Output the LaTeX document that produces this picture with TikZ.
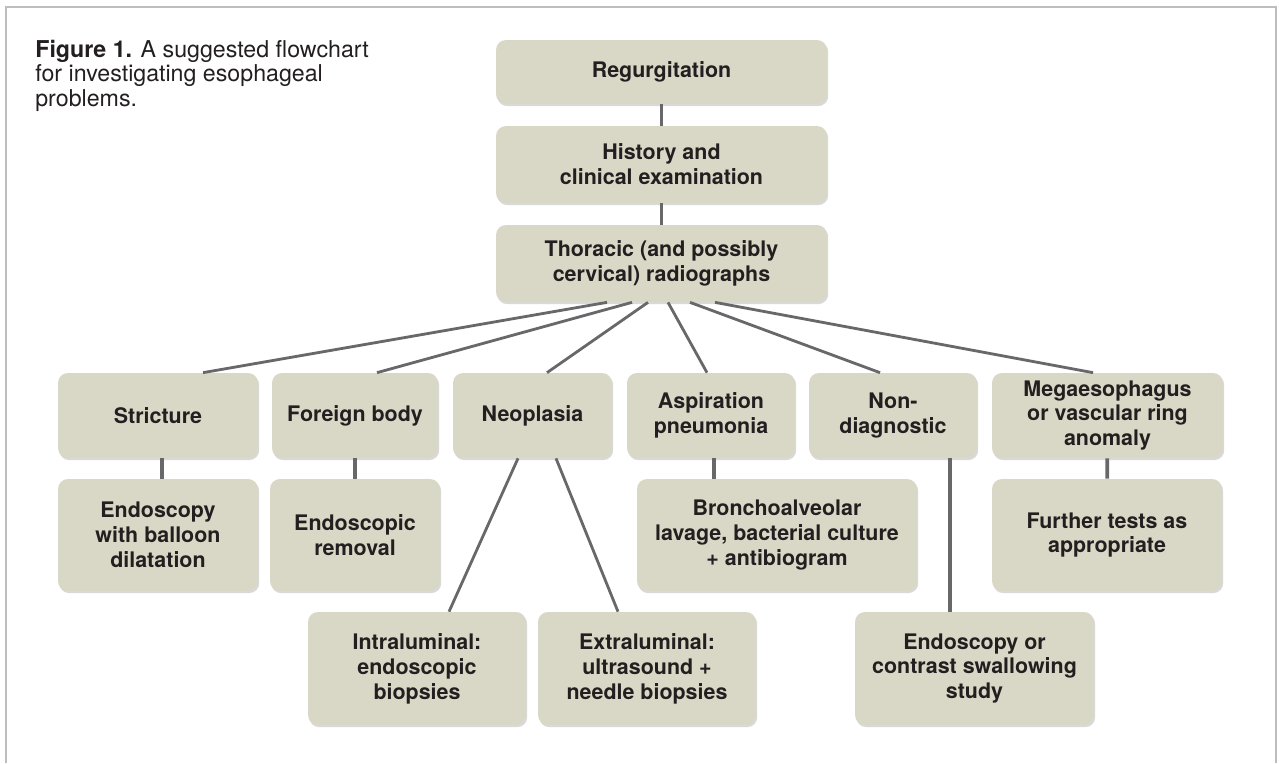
\documentclass[tikz,border=0pt]{standalone}
\usepackage{fontspec}
\setmainfont{TeX Gyre Heros}
\usetikzlibrary{shadows}
\definecolor{boxfill}{RGB}{217,216,198}
\definecolor{inkdark}{RGB}{35,31,32}
\definecolor{linkgray}{RGB}{104,104,106}
\definecolor{framegray}{RGB}{190,190,192}
\begin{document}
\begin{tikzpicture}[
  box/.style={fill=boxfill, rounded corners=0.2cm, align=center, inner sep=0pt,
    text=inkdark, font=\bfseries\fontsize{12.2}{14.2}\selectfont,
    drop shadow={shadow xshift=0.7pt, shadow yshift=-1.2pt, opacity=0.3}},
  link/.style={draw=linkgray, line width=1.6pt},
  stem/.style={link, line width=2.1pt}
]
\useasboundingbox (0,0) rectangle (25.58,-15.26);
\draw [framegray, line width=0.8pt] (0.12,-15.26) -- (0.12,-0.14) -- (25.52,-0.14) -- (25.52,-15.26);
\node (caption) [anchor=north west, inner sep=0pt, align=left, text=inkdark, font=\fontsize{13.2}{13.8}\selectfont] at (0.70,-0.80) {\textbf{Figure 1.} A suggested flowchart\\for investigating esophageal\\problems.};

\node (regurg) [box, minimum width=6.62cm, minimum height=1.28cm] at (13.23,-1.44) {Regurgitation};
\node (hist) [box, minimum width=6.62cm, minimum height=1.54cm] at (13.23,-3.29) {History and\\clinical examination};
\node (thor) [box, minimum width=6.62cm, minimum height=1.54cm] at (13.23,-5.27) {Thoracic (and possibly\\cervical) radiographs};

\node (strict) [box, minimum width=4.00cm, minimum height=1.70cm] at (3.16,-8.31) {Stricture};
\node (foreign) [box, minimum width=3.32cm, minimum height=1.70cm] at (7.10,-8.31) {Foreign body};
\node (neo) [box, minimum width=3.18cm, minimum height=1.70cm] at (10.65,-8.31) {Neoplasia};
\node (asp) [box, minimum width=3.36cm, minimum height=1.70cm] at (14.22,-8.31) {Aspiration\\pneumonia};
\node (nondiag) [box, minimum width=3.36cm, minimum height=1.70cm] at (17.86,-8.31) {Non-\\diagnostic};
\node (mega) [box, minimum width=4.62cm, minimum height=1.70cm] at (22.15,-8.31) {Megaesophagus\\or vascular ring\\anomaly};

\node (balloon) [box, minimum width=4.00cm, minimum height=2.24cm] at (3.16,-10.70) {Endoscopy\\with balloon\\dilatation};
\node (removal) [box, minimum width=3.40cm, minimum height=2.24cm] at (7.10,-10.70) {Endoscopic\\removal};
\node (bronch) [box, minimum width=5.60cm, minimum height=2.24cm] at (15.54,-10.70) {Bronchoalveolar\\lavage, bacterial culture\\+ antibiogram};
\node (further) [box, minimum width=4.60cm, minimum height=2.24cm] at (22.14,-10.70) {Further tests as\\appropriate};

\node (intra) [box, minimum width=4.36cm, minimum height=2.26cm] at (8.34,-13.37) {Intraluminal:\\endoscopic\\biopsies};
\node (extra) [box, minimum width=4.36cm, minimum height=2.26cm] at (12.94,-13.37) {Extraluminal:\\ultrasound +\\needle biopsies};
\node (contrast) [box, minimum width=4.78cm, minimum height=2.26cm] at (19.49,-13.37) {Endoscopy or\\contrast swallowing\\study};

\draw [stem] (regurg) -- (hist);
\draw [stem] (hist) -- (thor);
\draw [link] ([xshift=-1.09cm]thor.south) -- ([xshift=0.90cm]strict.north);
\draw [link] ([xshift=-0.59cm]thor.south) -- ([xshift=0.44cm]foreign.north);
\draw [link] ([xshift=-0.27cm]thor.south) -- ([xshift=0.29cm]neo.north);
\draw [link] ([xshift=0.13cm]thor.south) -- ([xshift=-0.08cm]asp.north);
\draw [link] ([xshift=0.57cm]thor.south) -- ([xshift=-0.26cm]nondiag.north);
\draw [link] ([xshift=1.07cm]thor.south) -- ([xshift=-0.29cm]mega.north);
\draw [stem] ([xshift=0.08cm]strict.south) -- ([xshift=0.08cm]balloon.north);
\draw [stem] (foreign) -- (removal);
\draw [stem] ([xshift=0.06cm]asp.south) -- ([xshift=0.06cm]asp.south |- bronch.north);
\draw [stem] (mega) -- (further);
\draw [link] ([xshift=-0.29cm]neo.south) -- ([xshift=0.64cm]intra.north);
\draw [link] ([xshift=0.47cm]neo.south) -- ([xshift=-0.58cm]extra.north);
\draw [stem] ([xshift=1.14cm]nondiag.south) -- ([xshift=1.14cm]nondiag.south |- contrast.north);
\end{tikzpicture}
\end{document}
